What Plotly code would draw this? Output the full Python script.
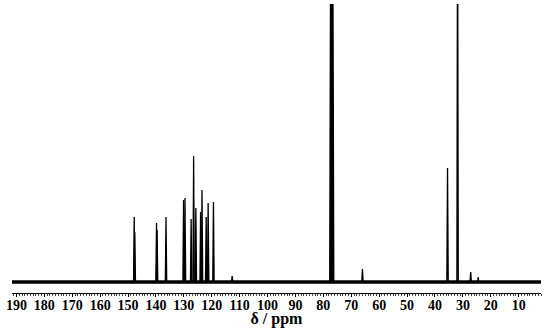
import plotly.graph_objects as go

# 13C NMR peaks: chemical shift (ppm) and height (px above baseline)
peak_ppm = [147.8, 147.6, 139.8, 139.6, 136.4, 130.1, 129.6, 127.4, 126.5, 125.7,
            124.0, 123.5, 122.0, 121.3, 119.4, 112.7, 66.0, 35.5, 31.9, 27.2, 24.5]
peak_height = [65, 50, 59, 52, 65, 82, 84, 63, 126, 74,
               70, 92, 65, 79, 80, 6, 13, 114, 400, 10, 5]

# solvent (CDCl3) triplet, off scale
solvent_ppm = [77.3, 77.0, 76.7]
solvent_height = [400, 400, 400]

x_range = [191.6, 2.0]
y_range = [-11, 278]
tick_font = dict(family="Liberation Serif", size=14, color="black", weight="bold")
title_font = dict(family="Liberation Serif", size=16, color="black", weight="bold")


def sticks(ppms, heights, half=0.25):
    xs, ys = [], []
    for p, h in zip(ppms, heights):
        xs += [p - half, p, p + half, None]
        ys += [0, h, 0, None]
    return xs, ys


fig = go.Figure()

# noisy baseline band
fig.add_trace(go.Scatter(x=x_range, y=[0, 0], mode="lines",
                         line=dict(color="black", width=3.5), hoverinfo="skip"))

sx, sy = sticks(peak_ppm, peak_height)
fig.add_trace(go.Scatter(x=sx, y=sy, mode="lines",
                         line=dict(color="black", width=1.3)))

vx, vy = sticks(solvent_ppm, solvent_height, half=0.4)
fig.add_trace(go.Scatter(x=vx, y=vy, mode="lines",
                         line=dict(color="black", width=1.5)))

fig.update_layout(
    width=550, height=328,
    margin=dict(l=12, r=9, t=4, b=35),
    paper_bgcolor="white", plot_bgcolor="white",
    showlegend=False,
    xaxis=dict(
        range=x_range, tickmode="linear", tick0=0, dtick=10,
        automargin=False,
        ticks="outside", ticklen=3, tickcolor="black", tickwidth=1,
        ticklabelstandoff=-4,
        showline=True, linecolor="black", linewidth=1,
        showgrid=False, zeroline=False,
        minor=dict(dtick=1, ticks="outside", ticklen=2, tickwidth=0.8,
                   tickcolor="#444", showgrid=False),
        tickfont=tick_font,
        title=dict(text="δ / ppm", font=title_font, standoff=0),
    ),
    yaxis=dict(range=y_range, visible=False, automargin=False),
)

fig.write_html("out.html", config={"displayModeBar": False},
               post_script="document.body.style.margin='0';")
